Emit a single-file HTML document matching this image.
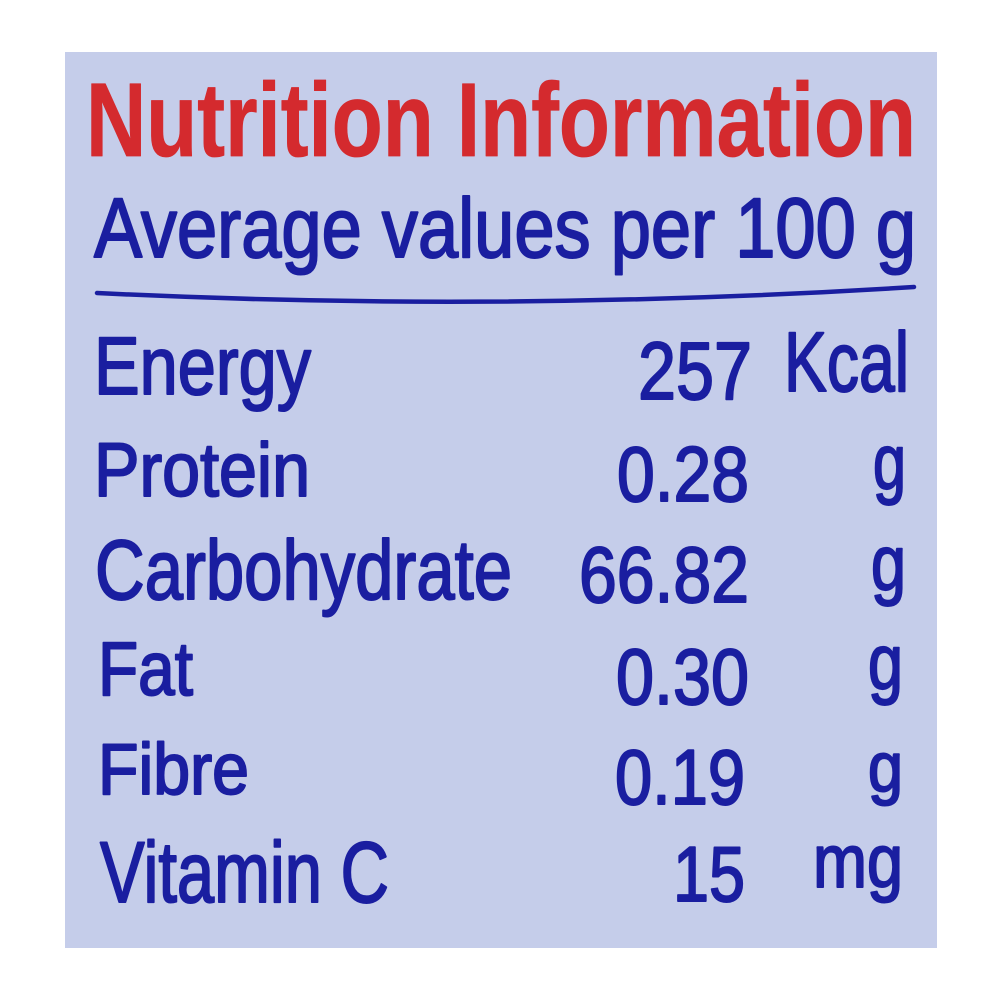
<!DOCTYPE html>
<html>
<head>
<meta charset="utf-8">
<style>
  html,body{margin:0;padding:0;background:#ffffff;}
  svg{display:block;}
  text{font-family:"Liberation Sans","DejaVu Sans",sans-serif;}
</style>
</head>
<body>
<svg width="1000" height="1000" viewBox="0 0 1000 1000" xmlns="http://www.w3.org/2000/svg">
  <rect x="0" y="0" width="1000" height="1000" fill="#ffffff"/>
  <rect x="65" y="52" width="872" height="896" fill="#c5cdea"/>

  <!-- Title -->
  <text x="86" y="156" font-size="105" font-weight="bold" fill="#d42a2e" stroke="#d42a2e" stroke-width="0.8" stroke-linejoin="round" textLength="830" lengthAdjust="spacingAndGlyphs">Nutrition Information</text>

  <!-- Subtitle -->
  <text x="94" y="257" font-size="84" fill="#1a1ea0" stroke="#1a1ea0" stroke-width="2" stroke-linejoin="round" textLength="822" lengthAdjust="spacingAndGlyphs">Average values per 100 g</text>

  <!-- Rule -->
  <path d="M97,293 Q500,313 914,287" fill="none" stroke="#1a1ea0" stroke-width="4.5" stroke-linecap="round"/>

  <g fill="#1a1ea0" stroke="#1a1ea0" stroke-width="2" stroke-linejoin="round">
    <!-- Labels -->
    <text x="94" y="394" font-size="82" textLength="217" lengthAdjust="spacingAndGlyphs">Energy</text>
    <text x="94" y="496" font-size="76" textLength="216" lengthAdjust="spacingAndGlyphs">Protein</text>
    <text x="95" y="599" font-size="84" textLength="417" lengthAdjust="spacingAndGlyphs">Carbohydrate</text>
    <text x="98" y="695" font-size="76" textLength="95" lengthAdjust="spacingAndGlyphs">Fat</text>
    <text x="98" y="794" font-size="72" textLength="151" lengthAdjust="spacingAndGlyphs">Fibre</text>
    <text x="100" y="902" font-size="86" textLength="289" lengthAdjust="spacingAndGlyphs">Vitamin C</text>

    <!-- Values -->
    <text x="638" y="399" font-size="82" textLength="114" lengthAdjust="spacingAndGlyphs">257</text>
    <text x="617" y="501" font-size="78" textLength="132" lengthAdjust="spacingAndGlyphs">0.28</text>
    <text x="579" y="602" font-size="79" textLength="170" lengthAdjust="spacingAndGlyphs">66.82</text>
    <text x="616" y="704" font-size="79" textLength="133" lengthAdjust="spacingAndGlyphs">0.30</text>
    <text x="615" y="804" font-size="78" textLength="130" lengthAdjust="spacingAndGlyphs">0.19</text>
    <text x="673" y="901" font-size="78" textLength="72" lengthAdjust="spacingAndGlyphs">15</text>

    <!-- Units -->
    <text x="784" y="391" font-size="84" textLength="125" lengthAdjust="spacingAndGlyphs">Kcal</text>
    <text x="873" y="489" font-size="78" textLength="33" lengthAdjust="spacingAndGlyphs">g</text>
    <text x="871" y="590" font-size="78" textLength="35" lengthAdjust="spacingAndGlyphs">g</text>
    <text x="868" y="689" font-size="78" textLength="35" lengthAdjust="spacingAndGlyphs">g</text>
    <text x="868" y="791" font-size="70" textLength="35" lengthAdjust="spacingAndGlyphs">g</text>
    <text x="813" y="887" font-size="75" textLength="90" lengthAdjust="spacingAndGlyphs">mg</text>
  </g>
</svg>
</body>
</html>
